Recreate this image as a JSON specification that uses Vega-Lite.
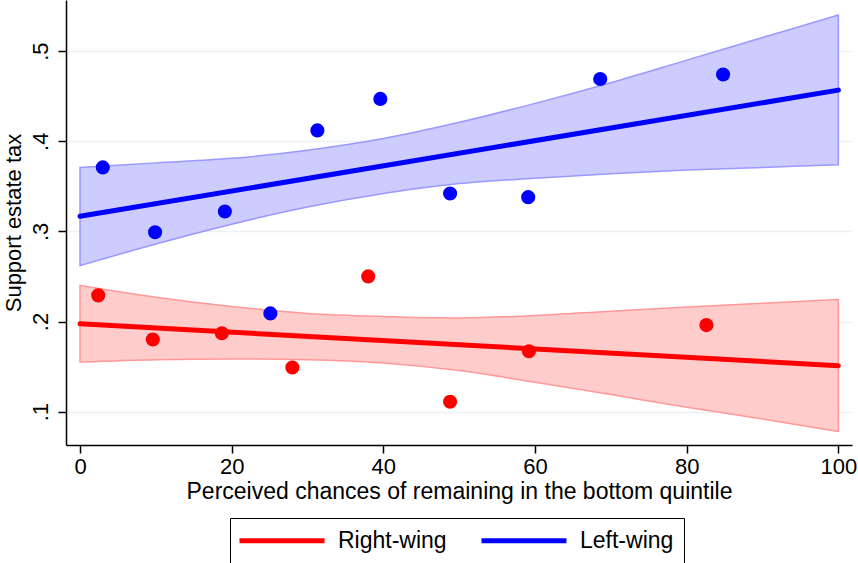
{
  "$schema": "https://vega.github.io/schema/vega-lite/v6.json",
  "width": 786,
  "height": 445,
  "autosize": "none",
  "padding": {"left": 66, "top": 0, "right": 6, "bottom": 118},
  "background": "white",
  "config": {
    "view": {"stroke": null},
    "font": "Liberation Sans",
    "legend": {
      "orient": "none",
      "legendX": 164,
      "legendY": 518,
      "direction": "horizontal",
      "columns": 2,
      "symbolType": "M-1.3,0H7.2",
      "symbolSize": 400,
      "symbolStrokeWidth": 5,
      "labelFontSize": 23,
      "labelFont": "Liberation Sans",
      "labelColor": "black",
      "labelOffset": 73,
      "columnPadding": 24,
      "padding": 10,
      "strokeColor": "black",
      "title": null
    }
  },
  "datasets": {
    "points": [
      {"x": 3.0, "y": 0.371, "group": "Left-wing"},
      {"x": 9.9, "y": 0.299, "group": "Left-wing"},
      {"x": 19.1, "y": 0.322, "group": "Left-wing"},
      {"x": 25.1, "y": 0.209, "group": "Left-wing"},
      {"x": 31.3, "y": 0.412, "group": "Left-wing"},
      {"x": 39.6, "y": 0.447, "group": "Left-wing"},
      {"x": 48.8, "y": 0.342, "group": "Left-wing"},
      {"x": 59.1, "y": 0.338, "group": "Left-wing"},
      {"x": 68.6, "y": 0.469, "group": "Left-wing"},
      {"x": 84.8, "y": 0.474, "group": "Left-wing"},
      {"x": 2.4, "y": 0.229, "group": "Right-wing"},
      {"x": 9.6, "y": 0.180, "group": "Right-wing"},
      {"x": 18.7, "y": 0.187, "group": "Right-wing"},
      {"x": 28.0, "y": 0.149, "group": "Right-wing"},
      {"x": 38.0, "y": 0.250, "group": "Right-wing"},
      {"x": 48.8, "y": 0.111, "group": "Right-wing"},
      {"x": 59.2, "y": 0.167, "group": "Right-wing"},
      {"x": 82.6, "y": 0.196, "group": "Right-wing"}
    ],
    "bands": [
      {"x": 0, "lo": 0.262, "hi": 0.371, "group": "Left-wing"},
      {"x": 10, "lo": 0.286, "hi": 0.376, "group": "Left-wing"},
      {"x": 20, "lo": 0.308, "hi": 0.381, "group": "Left-wing"},
      {"x": 30, "lo": 0.327, "hi": 0.390, "group": "Left-wing"},
      {"x": 40, "lo": 0.342, "hi": 0.403, "group": "Left-wing"},
      {"x": 50, "lo": 0.353, "hi": 0.421, "group": "Left-wing"},
      {"x": 60, "lo": 0.359, "hi": 0.442, "group": "Left-wing"},
      {"x": 70, "lo": 0.364, "hi": 0.465, "group": "Left-wing"},
      {"x": 80, "lo": 0.368, "hi": 0.490, "group": "Left-wing"},
      {"x": 90, "lo": 0.371, "hi": 0.515, "group": "Left-wing"},
      {"x": 100, "lo": 0.374, "hi": 0.540, "group": "Left-wing"},
      {"x": 0, "lo": 0.155, "hi": 0.240, "group": "Right-wing"},
      {"x": 10, "lo": 0.1576, "hi": 0.227, "group": "Right-wing"},
      {"x": 20, "lo": 0.1585, "hi": 0.2167, "group": "Right-wing"},
      {"x": 30, "lo": 0.1576, "hi": 0.209, "group": "Right-wing"},
      {"x": 40, "lo": 0.154, "hi": 0.2056, "group": "Right-wing"},
      {"x": 50, "lo": 0.1456, "hi": 0.204, "group": "Right-wing"},
      {"x": 60, "lo": 0.1326, "hi": 0.2067, "group": "Right-wing"},
      {"x": 70, "lo": 0.1189, "hi": 0.2115, "group": "Right-wing"},
      {"x": 80, "lo": 0.1048, "hi": 0.216, "group": "Right-wing"},
      {"x": 90, "lo": 0.0919, "hi": 0.2204, "group": "Right-wing"},
      {"x": 100, "lo": 0.078, "hi": 0.2244, "group": "Right-wing"}
    ],
    "fits": [
      {"x": 0, "y": 0.1974, "group": "Right-wing"},
      {"x": 100, "y": 0.151, "group": "Right-wing"},
      {"x": 0, "y": 0.3167, "group": "Left-wing"},
      {"x": 100, "y": 0.4567, "group": "Left-wing"}
    ]
  },
  "encoding": {
    "x": {
      "field": "x",
      "type": "quantitative",
      "scale": {"domain": [-1.85, 101.8], "nice": false, "zero": false},
      "axis": {
        "values": [0, 20, 40, 60, 80, 100],
        "grid": false,
        "domainColor": "black",
        "domainWidth": 1.5,
        "tickColor": "black",
        "tickSize": 8,
        "tickWidth": 1.5,
        "labelFontSize": 22,
        "labelColor": "black",
        "labelPadding": 3,
        "labelFlush": false,
        "title": "Perceived chances of remaining in the bottom quintile",
        "titleFontSize": 23,
        "titleFontWeight": "normal",
        "titleColor": "black",
        "titlePadding": 3
      }
    }
  },
  "layer": [
    {
      "data": {"name": "bands"},
      "transform": [{"filter": "datum.group === 'Left-wing'"}],
      "mark": {"type": "area", "interpolate": "monotone", "fill": "#CCCCFF", "stroke": "#9999FF", "strokeWidth": 1.5, "opacity": 1},
      "encoding": {
        "y": {
          "field": "lo",
          "type": "quantitative",
          "scale": {"domain": [0.063, 0.5567], "nice": false, "zero": false},
          "axis": {
            "values": [0.1, 0.2, 0.3, 0.4, 0.5],
            "labelExpr": "replace(format(datum.value, '.1f'), '0.', '.')",
            "grid": true,
            "gridColor": "#EAF2F3",
            "gridWidth": 1.5,
            "domainColor": "black",
            "domainWidth": 1.5,
            "tickColor": "black",
            "tickSize": 8,
            "tickWidth": 1.5,
            "labelAngle": -90,
            "labelAlign": "center",
            "labelBaseline": "bottom",
            "labelFontSize": 22,
            "labelColor": "black",
            "labelPadding": 6,
            "title": "Support estate tax",
            "titleFontSize": 22,
            "titleFontWeight": "normal",
            "titleColor": "black",
            "titlePadding": 4
          }
        },
        "y2": {"field": "hi"}
      }
    },
    {
      "data": {"name": "bands"},
      "transform": [{"filter": "datum.group === 'Right-wing'"}],
      "mark": {"type": "area", "interpolate": "monotone", "fill": "#FFCCCC", "stroke": "#FF9999", "strokeWidth": 1.5, "opacity": 1},
      "encoding": {
        "y": {"field": "lo", "type": "quantitative"},
        "y2": {"field": "hi"}
      }
    },
    {
      "data": {"name": "fits"},
      "mark": {"type": "line", "strokeWidth": 5, "strokeCap": "round"},
      "encoding": {
        "y": {"field": "y", "type": "quantitative"},
        "color": {
          "field": "group",
          "type": "nominal",
          "scale": {"domain": ["Right-wing", "Left-wing"], "range": ["#FF0000", "#0000FF"]},
          "legend": {}
        }
      }
    },
    {
      "data": {"name": "points"},
      "transform": [{"filter": "datum.group === 'Left-wing'"}],
      "mark": {"type": "circle", "size": 200, "color": "#0000FF", "opacity": 1},
      "encoding": {"y": {"field": "y", "type": "quantitative"}}
    },
    {
      "data": {"name": "points"},
      "transform": [{"filter": "datum.group === 'Right-wing'"}],
      "mark": {"type": "circle", "size": 200, "color": "#FF0000", "opacity": 1},
      "encoding": {"y": {"field": "y", "type": "quantitative"}}
    }
  ]
}
